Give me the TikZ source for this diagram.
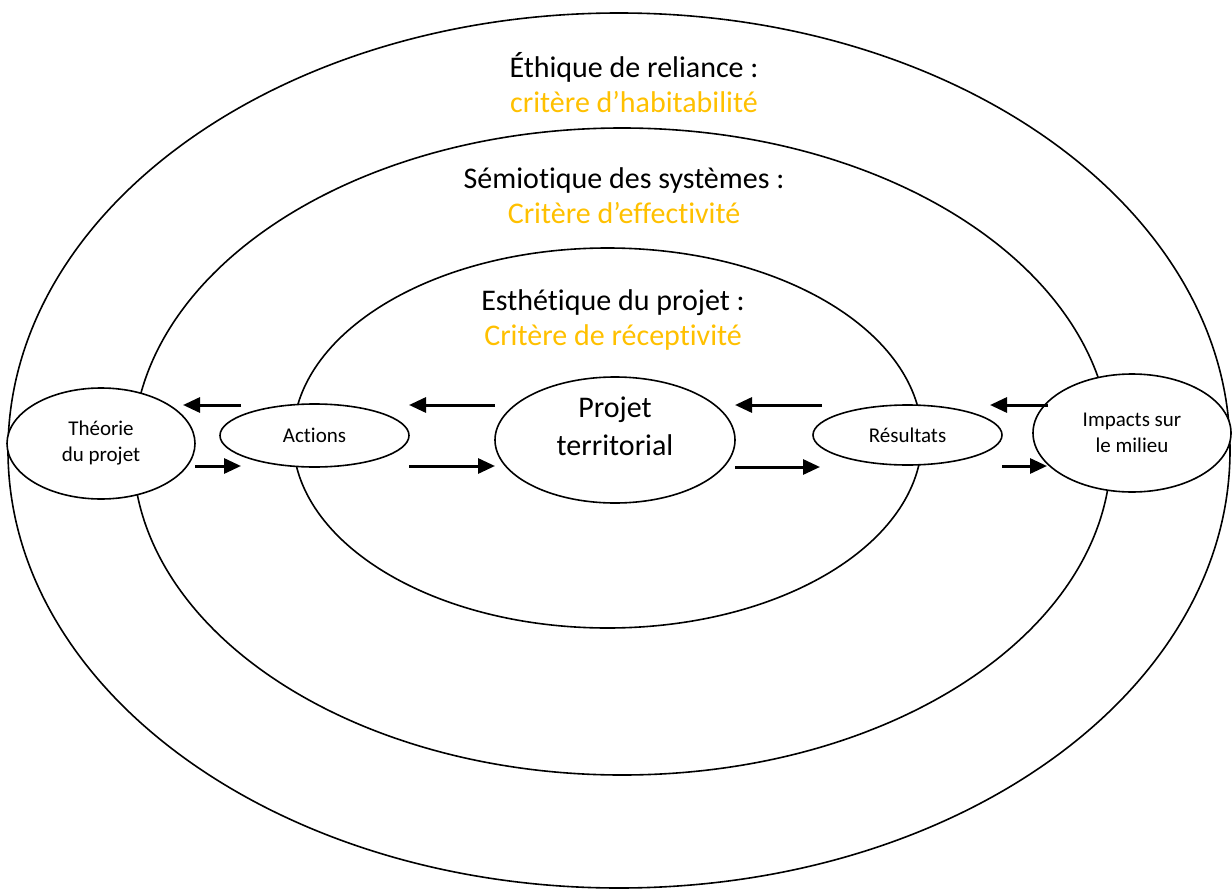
\documentclass[tikz,border=0pt]{standalone}
\usepackage{fontspec}
\setmainfont[Ligatures=NoCommon, RawFeature={-liga,-clig,-calt,-dlig}]{Carlito}
\usepackage{tikz}
\usetikzlibrary{arrows.meta,calc,shapes.geometric}
\definecolor{crit}{HTML}{FFC000}

\begin{document}
\begin{tikzpicture}[
  x=1pt, y=-1pt,
  ring/.style={draw, line width=1.6pt},
  oval/.style={ellipse, draw, fill=white, line width=1.6pt,
               inner sep=0pt, outer sep=0pt, align=center,
               font=\fontsize{21}{26}\selectfont},
  title/.style={align=center, font=\fontsize{30}{35}\selectfont},
  arr/.style={-{Triangle[length=17pt,width=15pt]}, line width=3pt}
]
\useasboundingbox (0,0) rectangle (1232,891);
% the three rings
\draw[ring] (619,450.5) ellipse [x radius=611pt, y radius=437.5pt];
\draw[ring] (622,451.5) ellipse [x radius=489pt, y radius=323.5pt];
\draw[ring] (607.5,438) ellipse [x radius=314.5pt, y radius=190pt];
\node[title] (ethique) at (634,83)
  {Éthique de reliance :\\ \textcolor{crit}{critère d’habitabilité}};
\node[title] (semio) at (624,196)
  {Sémiotique des systèmes :\\ \textcolor{crit}{Critère d’effectivité}};
\node[title] (esthe) at (613,320)
  {Esthétique du projet :\\ \textcolor{crit}{Critère de réceptivité}};
% the chain
\node[oval, minimum width=188pt, minimum height=111pt] (theorie)
  at (101,443.5) {Théorie\\du projet};
\node[oval, minimum width=189pt, minimum height=63pt] (actions)
  at (314.5,435.5) {Actions};
\node[oval, minimum width=240pt, minimum height=126pt, text depth=28pt,
      font=\fontsize{30}{38}\selectfont] (projet)
  at (615,440) {Projet\\territorial};
\node[oval, minimum width=189pt, minimum height=60pt] (resultats)
  at (907.5,435) {Résultats};
\node[oval, minimum width=198pt, minimum height=118pt] (impacts)
  at (1132,433) {Impacts sur\\le milieu};
\draw[arr] ($(actions.west)+(21,-30.5)$) -- ($(theorie.east)+(-12,-38.5)$);
\draw[arr] ($(theorie.east)+(0,22.5)$) -- ($(actions.west)+(21,30.5)$);
\draw[arr] ($(projet.west)+(0,-35)$) -- ($(actions.east)+(0,-30.5)$);
\draw[arr] ($(actions.east)+(0,30.5)$) -- ($(projet.west)+(0,26)$);
\draw[arr] ($(resultats.west)+(9,-30)$) -- ($(projet.east)+(0,-35)$);
\draw[arr] ($(projet.east)+(0,27)$) -- ($(resultats.west)+(7,32)$);
\draw[arr] ($(impacts.west)+(15,-28)$) -- ($(resultats.east)+(-12,-30)$);
\draw[arr] ($(resultats.east)+(0,31)$) -- ($(impacts.west)+(14,33)$);
\end{tikzpicture}
\end{document}
